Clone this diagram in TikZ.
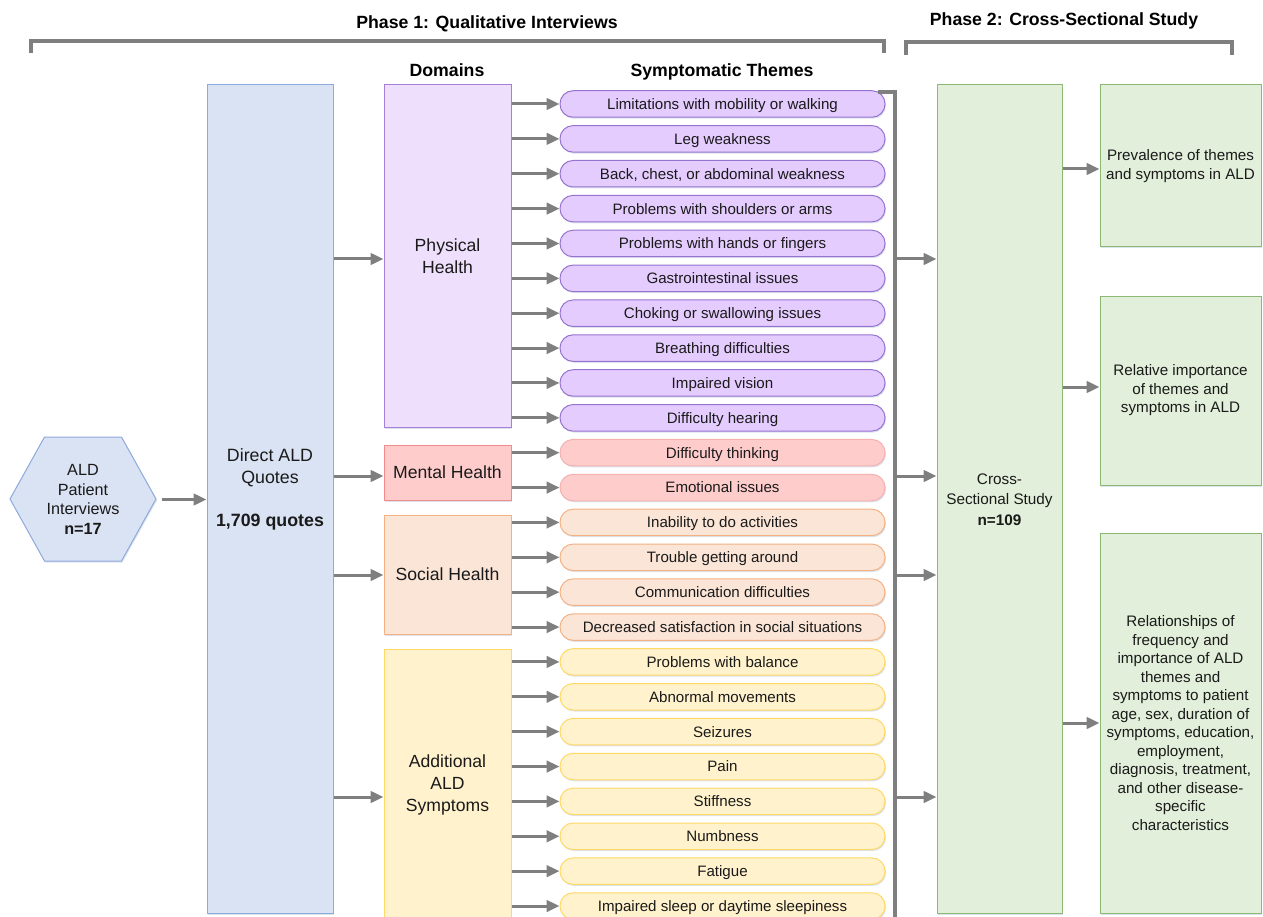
\documentclass[tikz,border=0pt]{standalone}
\usepackage{fontspec}
\setmainfont{Liberation Sans}
\usetikzlibrary{arrows.meta,shadows}
\definecolor{lgray}{HTML}{7F7F7F}
\definecolor{txt}{HTML}{1A1A1A}
\definecolor{blueF}{HTML}{DAE3F3}
\definecolor{blueD}{HTML}{8EA9DB}
\definecolor{physF}{HTML}{EEDFFC}
\definecolor{physD}{HTML}{A680D6}
\definecolor{pillPF}{HTML}{E5CCFF}
\definecolor{pillPD}{HTML}{9673D0}
\definecolor{mentF}{HTML}{FFCCCC}
\definecolor{mentD}{HTML}{F08C8C}
\definecolor{pillMD}{HTML}{F5B0B0}
\definecolor{socF}{HTML}{FBE5D6}
\definecolor{socD}{HTML}{F4B183}
\definecolor{addF}{HTML}{FFF2CC}
\definecolor{addD}{HTML}{FFD966}
\definecolor{grnF}{HTML}{E2EFDA}
\definecolor{grnD}{HTML}{8DB873}
\definecolor{shad}{HTML}{B4C2D6}
\begin{document}
\begin{tikzpicture}[x=1pt,y=-1pt,
  gline/.style={draw=lgray,line width=3.2pt},
  conn/.style={draw=lgray,line width=3pt,-{Triangle[length=13pt,width=11.5pt]}},
  softshadow/.style={drop shadow={shadow xshift=1pt,shadow yshift=-1.5pt,fill=shad,opacity=0.45}},
  box/.style={draw,line width=1pt,inner sep=0pt,text=txt,align=center,softshadow},
  dombox/.style={box,minimum width=127pt,font=\fontsize{17.6}{21.5}\selectfont},
  rbox/.style={box,fill=grnF,draw=grnD,minimum width=161pt,font=\fontsize{15.2}{18.5}\selectfont},
  pill/.style={draw,line width=1pt,rounded corners=13pt,minimum width=325pt,minimum height=26.5pt,
    inner sep=0pt,text=txt,font=\fontsize{15.1}{17}\selectfont,text height=10.8pt,text depth=0pt,softshadow},
  ttl/.style={font=\bfseries\fontsize{17.7}{20}\selectfont,text=black,anchor=base,inner sep=0pt},
  plain/.style={text=txt,align=center,inner sep=0pt}
]
\useasboundingbox (0,0) rectangle (1263,917);
\clip (0,0) rectangle (1263,917);

% titles
\node[ttl] (ph1) at (487,28.5) {Phase 1: Qualitative Interviews};
\node[ttl] (ph2) at (1064,26) {Phase 2: Cross-Sectional Study};
\node[ttl] (hdom) at (447,77) {Domains};
\node[ttl] (hsym) at (722,77) {Symptomatic Themes};

% brackets
\coordinate (b1l) at (31,53); \coordinate (b1lt) at (31,41);
\coordinate (b1rt) at (884,41); \coordinate (b1r) at (884,53);
\draw[gline] (b1l) -- (b1lt) -- (b1rt) -- (b1r);
\coordinate (b2l) at (906,55); \coordinate (b2lt) at (906,42);
\coordinate (b2rt) at (1232,42); \coordinate (b2r) at (1232,55);
\draw[gline] (b2l) -- (b2lt) -- (b2rt) -- (b2r);

% hexagon
\coordinate (h1) at (10,499); \coordinate (h2) at (44.5,437); \coordinate (h3) at (121.5,437);
\coordinate (h4) at (156,499); \coordinate (h5) at (121.5,561); \coordinate (h6) at (44.5,561);
\draw[fill=blueF,draw=blueD,line width=1pt,softshadow] (h1) -- (h2) -- (h3) -- (h4) -- (h5) -- (h6) -- cycle;
\node[plain,minimum width=146pt,font=\fontsize{16.2}{19.5}\selectfont] (hex) at (83,499.5)
  {ALD\\Patient\\Interviews\\\textbf{n=17}};

% direct quotes
\node[box,fill=blueF,draw=blueD,minimum width=126pt,minimum height=828pt] (direct) at (270,499) {};
\node[plain,font=\fontsize{17.8}{22}\selectfont] (dtxt) at (270,489)
  {Direct ALD\\Quotes\\[21pt]\textbf{1,709 quotes}};

% domains
\node[dombox,fill=physF,draw=physD,minimum height=342pt] (phys) at (447.5,256) {Physical\\Health};
\node[dombox,fill=mentF,draw=mentD,minimum height=55pt] (ment) at (447.5,472.5) {Mental Health};
\node[dombox,fill=socF,draw=socD,minimum height=119pt] (soc) at (447.5,574.5) {Social Health};
\node[dombox,fill=addF,draw=addD,minimum height=271pt,font=\fontsize{17.6}{22}\selectfont] (add) at (447.5,784.5) {Additional\\ALD\\Symptoms};

% pills
\foreach \t [count=\i from 1] in {Limitations with mobility or walking, Leg weakness,
  {Back, chest, or abdominal weakness}, Problems with shoulders or arms, Problems with hands or fingers,
  Gastrointestinal issues, Choking or swallowing issues, Breathing difficulties, Impaired vision,
  Difficulty hearing}
  \node[pill,fill=pillPF,draw=pillPD] (p\i) at (722.5,{104+(\i-1)*34.87}) {\t};
\foreach \t [count=\i from 11] in {Difficulty thinking, Emotional issues}
  \node[pill,fill=mentF,draw=pillMD] (p\i) at (722.5,{104+(\i-1)*34.87}) {\t};
\foreach \t [count=\i from 13] in {Inability to do activities, Trouble getting around,
  Communication difficulties, Decreased satisfaction in social situations}
  \node[pill,fill=socF,draw=socD] (p\i) at (722.5,{104+(\i-1)*34.87}) {\t};
\foreach \t [count=\i from 17] in {Problems with balance, Abnormal movements, Seizures, Pain,
  Stiffness, Numbness, Fatigue, Impaired sleep or daytime sleepiness}
  \node[pill,fill=addF,draw=addD] (p\i) at (722.5,{104+(\i-1)*34.87}) {\t};

% domain -> pill arrows
\foreach \i in {1,...,10} \draw[conn] (phys.east |- p\i) -- (p\i.west);
\foreach \i in {11,12} \draw[conn] (ment.east |- p\i) -- (p\i.west);
\foreach \i in {13,...,16} \draw[conn] (soc.east |- p\i) -- (p\i.west);
\foreach \i in {17,...,24} \draw[conn] (add.east |- p\i) -- (p\i.west);

% cross-sectional
\node[box,fill=grnF,draw=grnD,minimum width=125pt,minimum height=828pt] (cross) at (999.5,499) {};
\node[plain,font=\fontsize{15.3}{20.5}\selectfont] (ctxt) at (999.5,499.5)
  {Cross-\\Sectional Study\\\textbf{n=109}};

% result boxes
\node[rbox,minimum height=162pt] (r1) at (1180.5,166) {Prevalence of themes\\and symptoms in ALD};
\node[rbox,minimum height=189pt] (r2) at (1180.5,390.5) {Relative importance\\of themes and\\symptoms in ALD};
\node[rbox,minimum height=380pt] (r3) at (1180.5,723) {Relationships of\\frequency and\\importance of ALD\\themes and\\symptoms to patient\\age, sex, duration of\\symptoms, education,\\employment,\\diagnosis, treatment,\\and other disease-\\specific\\characteristics};

% levels
\coordinate (lvP) at (0,259); \coordinate (lvM) at (0,476);
\coordinate (lvS) at (0,575); \coordinate (lvA) at (0,797);
\coordinate (lr1) at (0,169); \coordinate (lr2) at (0,387); \coordinate (lr3) at (0,723);

% hex -> direct
\draw[conn] ([xshift=6pt]hex.east) -- (direct.west |- hex);
% direct -> domains
\foreach \l/\d in {lvP/phys,lvM/ment,lvS/soc,lvA/add}
  \draw[conn] (direct.east |- \l) -- (\d.west |- \l);

% collecting bracket
\coordinate (vt0) at (878,92); \coordinate (vt) at (895,92); \coordinate (vb) at (895,930);
\draw[gline] (vt0) -- (vt) -- (vb);
\foreach \l in {lvP,lvM,lvS,lvA}
  \draw[conn] (vt |- \l) -- (cross.west |- \l);

% cross -> results
\foreach \l/\r in {lr1/r1,lr2/r2,lr3/r3}
  \draw[conn] (cross.east |- \l) -- (\r.west |- \l);
\end{tikzpicture}
\end{document}
